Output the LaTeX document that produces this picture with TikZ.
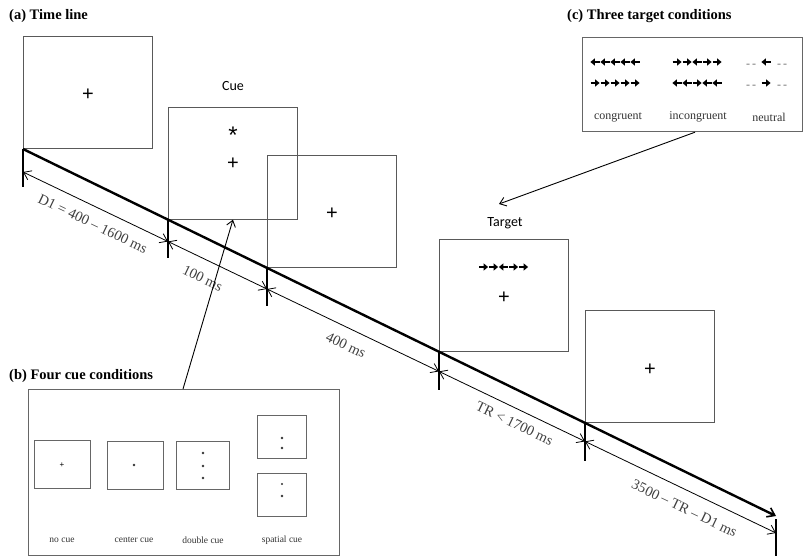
\documentclass[tikz,border=0pt]{standalone}
\usepackage{fontspec}
\setmainfont{Liberation Serif}
\newfontfamily\calibri{Carlito}
\newfontfamily\arialf{Liberation Sans}
\usetikzlibrary{arrows.meta,calc}
\tikzset{
  screen/.style={draw=black!65, line width=0.9pt, minimum width=129pt, minimum height=112pt, inner sep=0pt, anchor=south west},
  fixcross/.style={font=\arialf\fontsize{20}{20}\selectfont, inner sep=0pt},
  caption/.style={font=\calibri\fontsize{14}{14}\selectfont, inner sep=0pt},
  heading/.style={font=\bfseries\fontsize{14.5}{16}\selectfont, inner sep=0pt, anchor=west},
  timeline/.style={line width=2.4pt, -{Straight Barb[length=7pt,width=10pt,line width=1.6pt]}},
  tickmark/.style={line width=2.4pt},
  dimline/.style={line width=0.8pt, {Straight Barb[length=7pt,width=10pt]}-{Straight Barb[length=7pt,width=10pt]}},
  dimlabel/.style={font=\fontsize{14.5}{14.5}\selectfont, text=black!75, sloped, inner sep=0pt},
  panelbox/.style={draw=black!60, line width=1.2pt, inner sep=0pt, anchor=north west},
  cuebox/.style={draw=black!60, line width=1pt, inner sep=0pt},
  cuedot/.style={fill=black!80},
  smalllabel/.style={font=\fontsize{9.5}{10}\selectfont, text=black!80, inner sep=0pt},
  condlabel/.style={font=\fontsize{12}{12}\selectfont, text=black!80, inner sep=0pt},
  dashtext/.style={font=\fontsize{12}{12}\selectfont, text=black!55, inner sep=0pt},
  pointer/.style={line width=0.9pt, -{Straight Barb[length=6pt,width=9pt]}},
  pics/farrow/.style={code={
    \draw[line width=1.5pt, rotate=#1, -{Triangle[length=4.5pt,width=7pt]}] (-4.5,0) -- (4.6,0);
  }}
}
\newcommand\flankrow[3]{%
  \foreach \d [count=\i] in {#3} { \pic at ({#1+(\i-3)*10},#2) {farrow=\d}; }}
\begin{document}
\begin{tikzpicture}[x=1pt,y=-1pt]
\useasboundingbox (0,0) rectangle (803,556);

% headings
\node[heading] (ha) at (9,16) {(a) Time line};
\node[heading] (hc) at (567,16) {(c) Three target conditions};
\node[heading] (hb) at (9,376) {(b) Four cue conditions};

% screens
\node[screen] (s1) at (23,149) {};
\node[screen] (s2) at (168,219.7) {};
\node[screen] (s3) at (267,268) {};
\node[screen] (s4) at (439,351.8) {};
\node[screen] (s5) at (585,422.9) {};

\node[fixcross] (f1) at ($(s1.center)+(0,2)$) {+};
\node[fixcross] (f2) at ($(s2.center)+(0,0)$) {+};
\node[fixcross, font=\arialf\fontsize{24}{24}\selectfont] (star) at ($(s2.center)+(0,-28)$) {*};
\node[fixcross] (f3) at ($(s3.center)+(0,2)$) {+};
\node[fixcross] (f4) at ($(s4.center)+(0,2)$) {+};
\flankrow{503.5}{267}{0,0,180,0,0}
\node[fixcross] (f5) at ($(s5.center)+(0,3)$) {+};

\node[caption] (cue) at (233,86) {Cue};
\node[caption] (target) at (505,223) {Target};

% time line
\coordinate (tEnd) at (776,516);
\draw[tickmark] (s1.south west) -- ++(0,38) coordinate (b0);
\draw[tickmark] (s2.south west) -- ++(0,38) coordinate (b1);
\draw[tickmark] (s3.south west) -- ++(0,38) coordinate (b2);
\draw[tickmark] (s4.south west) -- ++(0,38) coordinate (b3);
\draw[tickmark] (s5.south west) -- ++(0,38) coordinate (b4);
\draw[tickmark] ($(tEnd)+(0,3)$) -- (776,557) coordinate (b5);
\draw[timeline] (s1.south west) -- (tEnd);

% durations
\coordinate (d0) at (23,172);
\coordinate (d1) at (168,241.5);
\coordinate (d2) at (267,289);
\coordinate (d3) at (439,371.4);
\coordinate (d4) at (585,441.4);
\coordinate (d5) at (776,533);
\draw[dimline] (d0) -- node[dimlabel, pos=0.53, below=11pt] {D1 = 400 – 1600 ms} (d1);
\draw[dimline] (d1) -- node[dimlabel, pos=0.43, below=13pt] {100 ms} (d2);
\draw[dimline] (d2) -- node[dimlabel, pos=0.5, below=11pt] {400 ms} (d3);
\draw[dimline] (d3) -- node[dimlabel, pos=0.56, below=9pt] {TR < 1700 ms} (d4);
\draw[dimline] (d4) -- node[dimlabel, pos=0.56, below=12pt] {3500 – TR – D1 ms} (d5);

% panel (b)
\node[panelbox, minimum width=311pt, minimum height=166pt] (bbox) at (28,389) {};
\node[cuebox, minimum width=56pt, minimum height=48pt] (nc) at (62,464) {};
\node[cuebox, minimum width=56pt, minimum height=48pt] (cc) at (135,465) {};
\node[cuebox, minimum width=53pt, minimum height=48pt] (dc) at (202.5,465) {};
\node[cuebox, minimum width=49pt, minimum height=43pt] (sp1) at (281.5,436.5) {};
\node[cuebox, minimum width=49pt, minimum height=43pt] (sp2) at (281.5,494.5) {};
\node[inner sep=0pt, font=\arialf\fontsize{8}{8}\selectfont] (ncx) at (62,465) {+};
\fill[cuedot] (134,465) circle (1.3);
\fill[cuedot] (203,453) circle (1.3);
\fill[cuedot] (203,466) circle (1.3);
\fill[cuedot] (203,478) circle (1.3);
\fill[cuedot] (282,438) circle (1.3);
\fill[cuedot] (282,448) circle (1.3);
\fill[cuedot] (282,484) circle (1.1);
\fill[cuedot] (282,496) circle (1.3);
\node[smalllabel] (l1) at (62,540) {no cue};
\node[smalllabel] (l2) at (134,540) {center cue};
\node[smalllabel] (l3) at (203,540) {double cue};
\node[smalllabel] (l4) at (282,540) {spatial cue};

% panel (c)
\node[panelbox, minimum width=220pt, minimum height=94pt] (cbox) at (582,37) {};
\flankrow{615}{62}{180,180,180,180,180}
\flankrow{697}{62}{0,0,180,0,0}
\flankrow{615}{83}{0,0,0,0,0}
\flankrow{697}{83}{180,180,0,180,180}
\pic at (766,62) {farrow=180};
\pic at (766,83) {farrow=0};
\node[dashtext] (n1l) at (751,66) {-\,-};
\node[dashtext] (n1r) at (782,66) {-\,-};
\node[dashtext] (n2l) at (751,87) {-\,-};
\node[dashtext] (n2r) at (782,87) {-\,-};
\node[condlabel] (c1) at (618,117) {congruent};
\node[condlabel] (c2) at (698,117) {incongruent};
\node[condlabel] (c3) at (769,117) {neutral};

% pointers
\draw[pointer] ([xshift=155pt]bbox.north west) -- (s2.south);
\coordinate (tgtpt) at (499,204);
\draw[pointer] ([xshift=113pt]cbox.south west) -- (tgtpt);
\end{tikzpicture}
\end{document}
